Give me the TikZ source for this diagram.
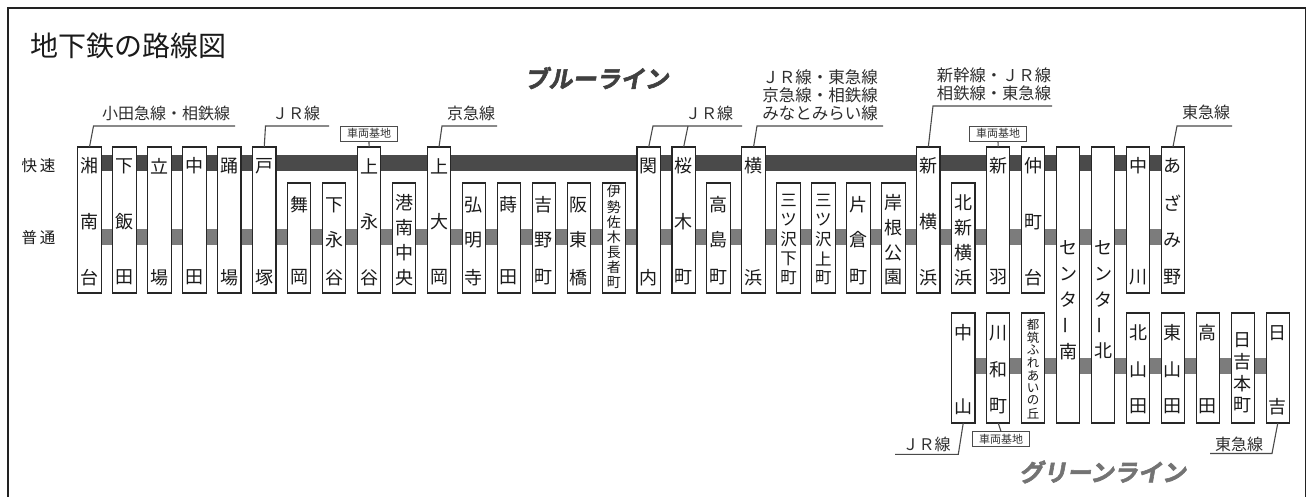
\documentclass[tikz,border=0pt]{standalone}
\usepackage{fontspec}
\usepackage{graphicx}
\setmainfont{Noto Sans CJK JP}
\newfontfamily\heavyjp{Noto Sans CJK JP}[UprightFont=* Bold, FakeSlant=0.18, FakeBold=2.5]
\definecolor{expc}{HTML}{4A4A4A}
\definecolor{locc}{HTML}{7C7C7C}
\definecolor{framec}{HTML}{222222}
\definecolor{linec}{HTML}{4A4A4A}
\definecolor{txtc}{HTML}{1A1A1A}
\tikzset{
  stbox/.style={draw=black!85, line width=1.1pt, fill=white, minimum width=23.4pt,
    inner sep=0pt, outer sep=0pt, anchor=north},
  lbl/.style={font=\fontsize{16}{18}\selectfont, inner sep=0pt, text=black!82, align=center},
  leader/.style={draw=linec, line width=1.1pt},
  depot/.style={draw=black!70, line width=0.8pt, fill=white, minimum width=57pt,
    minimum height=14.5pt, inner sep=0pt, font=\fontsize{11}{11}\selectfont, text=black!80},
  sidelbl/.style={font=\fontsize{15.5}{16}\selectfont, inner sep=0pt, text=txtc},
}
\begin{document}
\begin{tikzpicture}[x=1pt,y=-1pt]
\useasboundingbox (0,0) rectangle (1310,497);
% frame
\draw[draw=framec, line width=1.3pt] (8,8) rectangle (1305.5,530);
% title
\node[anchor=west, inner sep=0pt, font=\fontsize{28}{28}\selectfont, text=txtc] (title) at (30,46) {地下鉄の路線図};
% line names
\node[inner sep=0pt, font=\heavyjp\fontsize{24}{24}\selectfont, text=black!75] (blue) at (596.5,78) {ブルーライン};
\node[inner sep=0pt, font=\heavyjp\fontsize{24}{24}\selectfont, text=black!55] (green) at (1102.5,472) {グリーンライン};
% service labels
\node[sidelbl] (kaisoku) at (38.5,165.5) {快\hspace{3pt}速};
\node[sidelbl] (futsu) at (38.5,237.5) {普\hspace{3pt}通};
% bands
\fill[expc] (89.5,155) rectangle (1173,171);
\fill[locc] (89.5,229.5) rectangle (1173,245.5);
\fill[locc] (963.3,358) rectangle (1277.8,373.5);
% blue line stations
\foreach \i/\tp/\bt/\fs/\L in {
0/147/293/18/{湘/166,南/222,台/277.5},
1/147/293/18/{下/166,飯/222,田/277.5},
2/147/293/18/{立/166,場/277.5},
3/147/293/18/{中/166,田/277.5},
4/147/293/18/{踊/166,場/277.5},
5/147/293/18/{戸/166,塚/277.5},
6/183/293/18/{舞/205,岡/277.5},
7/183/293/18/{下/205,永/240,谷/277.5},
8/147/293/18/{上/166,永/222,谷/277.5},
9/183/293/18/{港/203,南/227.8,中/252.6,央/277.5},
10/147/293/18/{上/166,大/222,岡/277.5},
11/183/293/18/{弘/205,明/240,寺/277.5},
12/183/293/18/{蒔/205,田/277.5},
13/183/293/18/{吉/205,野/240,町/277.5},
14/183/293/18/{阪/205,東/240,橋/277.5},
15/183/293/14/{伊/191.5,勢/206.7,佐/221.9,木/237.1,長/252.3,者/267.5,町/282.7},
16/147/293/18/{関/166,内/277.5},
17/147/293/18/{桜/166,木/222,町/277.5},
18/183/293/18/{高/205,島/240,町/277.5},
19/147/293/18/{横/166,浜/277.5},
20/183/293/16.5/{三/200,ツ/219.5,沢/239,下/258.5,町/278},
21/183/293/16.5/{三/200,ツ/219.5,沢/239,上/258.5,町/278},
22/183/293/18/{片/205,倉/240,町/277.5},
23/183/293/18/{岸/203,根/227.8,公/252.6,園/277.5},
24/147/293/18/{新/166,横/222,浜/277.5},
25/183/293/18/{北/203,新/227.8,横/252.6,浜/277.5},
26/147/293/18/{新/166,羽/277.5},
27/147/293/18/{仲/166,町/222,台/277.5},
28/147/423/18/{セ/248,ン/273.8,タ/299.6,{\rotatebox{90}{ー}}/325.4,南/351.2},
29/147/423/18/{セ/248,ン/273.8,タ/299.6,{\rotatebox{90}{ー}}/325.4,北/351.2},
30/147/293/18/{中/166,川/277.5},
31/147/293/18/{あ/166,ざ/203,み/240,野/277.5}}{
  \pgfmathsetmacro\cx{89.5+34.95*\i}
  \pgfmathsetmacro\hh{\bt-\tp}
  \node[stbox, minimum height=\hh pt] (s\i) at (\cx,\tp) {};
  \foreach \c/\y [count=\k] in \L {
    \node[inner sep=0pt, text=txtc, font=\fontsize{\fs}{\fs}\selectfont] (s\i-\k) at (\cx,\y) {\c};
  }
}
% green line stations
\foreach \i/\fs/\L in {
25/18/{中/333,山/406.5},
26/18/{川/333,和/370,町/406.5},
27/12.5/{都/325,筑/337.6,ふ/350.2,れ/362.8,あ/375.4,い/388,の/400.6,丘/413.2},
30/18/{北/333,山/370,田/406.5},
31/18/{東/333,山/370,田/406.5},
32/18/{高/333,田/406.5},
33/18/{日/340,吉/361.8,本/383.6,町/405.4},
34/18/{日/333,吉/406.5}}{
  \pgfmathsetmacro\cx{89.5+34.95*\i}
  \node[stbox, minimum height=110pt] (g\i) at (\cx,313) {};
  \foreach \c/\y [count=\k] in \L {
    \node[inner sep=0pt, text=txtc, font=\fontsize{\fs}{\fs}\selectfont] (g\i-\k) at (\cx,\y) {\c};
  }
}
% depots
\node[depot] (dep1) at (369,133.8) {車両基地};
\node[depot] (dep2) at (998,133.8) {車両基地};
\node[depot] (dep3) at (1001,439) {車両基地};
\draw[leader] (dep1.south) -- (s8.north);
\draw[leader] (dep2.south) -- (s26.north);
\draw[leader] (g26.south) -- (dep3.north);
% connecting-line labels (top)
\node[lbl] (l1) at (166,113) {小田急線・相鉄線};
\coordinate (a1) at (93.5,126); \coordinate (b1) at (235,126);
\draw[leader] (s0.north) -- (a1) -- (b1);
\node[lbl] (l2) at (296,113) {ＪＲ線};
\coordinate (a2) at (265.5,126); \coordinate (b2) at (329,126);
\draw[leader] (s5.north) -- (a2) -- (b2);
\node[lbl] (l3) at (471,113) {京急線};
\coordinate (a3) at (442,126); \coordinate (b3) at (497,126);
\draw[leader] (s10.north) -- (a3) -- (b3);
\node[lbl] (l4) at (709,113) {ＪＲ線};
\coordinate (a4) at (653,126); \coordinate (c4) at (688,126); \coordinate (b4) at (742,126);
\draw[leader] (s16.north) -- (a4) -- (b4);
\draw[leader] (s17.north) -- (c4);
\node[lbl, font=\fontsize{16.5}{18}\selectfont] (l5) at (820,95) {ＪＲ線・東急線\\京急線・相鉄線\\みなとみらい線};
\coordinate (a5) at (757,126); \coordinate (b5) at (883,126);
\draw[leader] (s19.north) -- (a5) -- (b5);
\node[lbl, font=\fontsize{16.3}{18}\selectfont] (l6) at (994,84) {新幹線・ＪＲ線\\相鉄線・東急線};
\coordinate (a6) at (933,106); \coordinate (b6) at (1052,106);
\draw[leader] (s24.north) -- (a6) -- (b6);
\node[lbl] (l7) at (1206,112) {東急線};
\coordinate (a7) at (1177,126); \coordinate (b7) at (1232,126);
\draw[leader] (s31.north) -- (a7) -- (b7);
% connecting-line labels (bottom)
\node[lbl] (l8) at (926.5,444) {ＪＲ線};
\coordinate (a8) at (958.3,454.3); \coordinate (b8) at (895,454.3);
\draw[leader] (g25.south) -- (a8) -- (b8);
\node[lbl] (l9) at (1239,444) {東急線};
\coordinate (a9) at (1272,453.5); \coordinate (b9) at (1210,453.5);
\draw[leader] (g34.south) -- (a9) -- (b9);
\end{tikzpicture}
\end{document}
